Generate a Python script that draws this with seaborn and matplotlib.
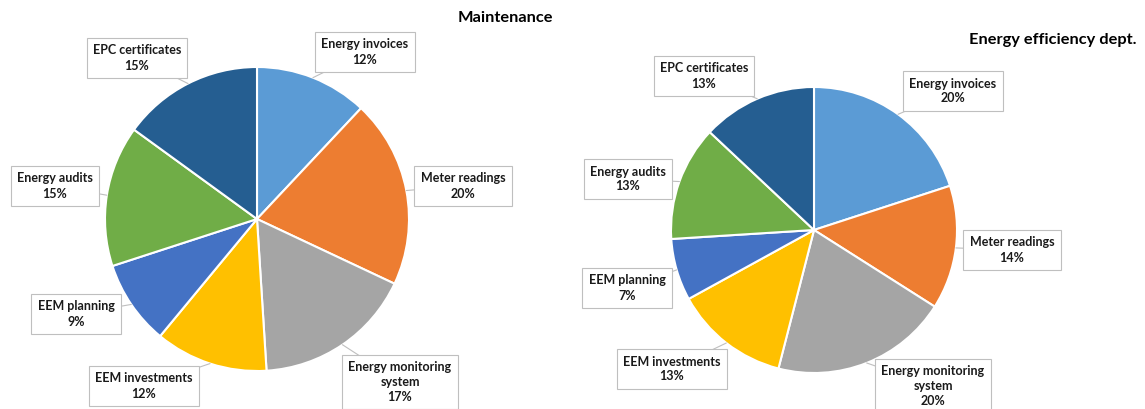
import numpy as np
import matplotlib
matplotlib.use("Agg")
import matplotlib.pyplot as plt
import seaborn as sns

categories = ["Energy invoices", "Meter readings", "Energy monitoring\nsystem",
              "EEM investments", "EEM planning", "Energy audits", "EPC certificates"]
maintenance = [12, 20, 17, 12, 9, 15, 15]
energy_dept = [20, 14, 20, 13, 7, 13, 13]
titles = ["Maintenance", "Energy efficiency dept."]

colors = ["#5B9BD5", "#ED7D31", "#A5A5A5", "#FFC000", "#4472C4", "#70AD47", "#255E91"]

sns.set_theme(style="white")
plt.rcParams['font.family'] = ['Lato', 'DejaVu Sans']

W, H = 1145, 409
fig = plt.figure(figsize=(W / 100, H / 100), dpi=100)
ax = fig.add_axes([0, 0, 1, 1])
ax.set_xlim(0, W)
ax.set_ylim(0, H)
ax.set_aspect('equal')
ax.axis('off')

# layout (pixel coords, y from top)
pies = [
    dict(vals=maintenance, center=(257, 219), r=152, title_xy=(505, 18),
         label_xy=[(365, 52), (463, 186), (400, 382), (144, 386), (76, 314), (55, 186), (137, 58)]),
    dict(vals=energy_dept, center=(814, 230), r=143, title_xy=(1053, 40),
         label_xy=[(953, 91), (1012, 250), (933, 386), (672, 369), (627, 288), (628, 179), (704, 76)]),
]

for p in pies:
    cx, cy = p["center"]
    cyd = H - cy
    vals = p["vals"]
    ax.pie(vals, colors=colors, startangle=90, counterclock=False,
           center=(cx, cyd), radius=p["r"], frame=True,
           wedgeprops=dict(edgecolor="white", linewidth=1.5))
    total = float(sum(vals))
    cum = 0.0
    for v, lab, (lx, ly) in zip(vals, categories, p["label_xy"]):
        mid = 90 - 360 * (cum + v / 2) / total
        cum += v
        ex = cx + p["r"] * np.cos(np.radians(mid))
        ey = cyd + p["r"] * np.sin(np.radians(mid))
        ax.plot([ex, lx], [ey, H - ly], color="#BFBFBF", lw=0.8, zorder=3)
        ax.text(lx, H - ly, f"{lab}\n{v}%", ha="center", va="center",
                fontsize=9, fontweight="bold", color="#1A1A1A", linespacing=1.3,
                zorder=5,
                bbox=dict(boxstyle="square,pad=0.5", facecolor="white",
                          edgecolor="#BFBFBF", linewidth=0.8))

for p, t in zip(pies, titles):
    tx, ty = p["title_xy"]
    ax.text(tx, H - ty, t, ha="center", va="center", fontsize=11.8,
            fontweight="bold", color="#000000", zorder=6)

ax.set_xlim(0, W)
ax.set_ylim(0, H)
fig.savefig("out.png", dpi=100)
